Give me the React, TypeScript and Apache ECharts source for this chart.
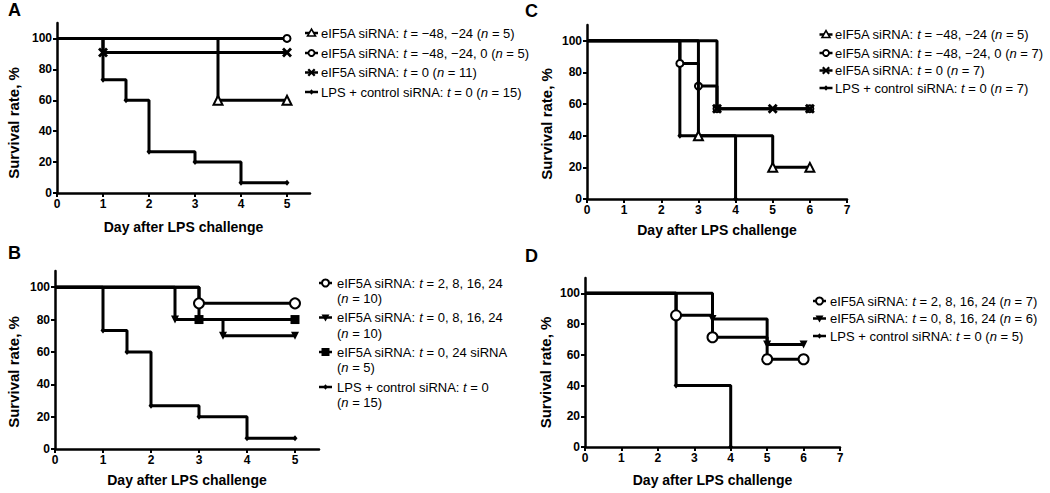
import React, { useEffect, useRef } from "react";
import * as echarts from "echarts";

const FONT = "'Liberation Sans', Arial, Helvetica, sans-serif";

// ---------- tick labels ----------
const xTicksAB = [0, 1, 2, 3, 4, 5];
const xTicksCD = [0, 1, 2, 3, 4, 5, 6, 7];
const yTicks = [0, 20, 40, 60, 80, 100];

// ---------- data: [day, survival %] ----------
// Panel A
const aTriangle = [[0, 100], [3.5, 60], [5, 60]];
const aCircle = [[0, 100], [5, 100]];
const aCross = [[0, 100], [1, 90.9], [5, 90.9]];
const lps15 = [[0, 100], [1, 73.3], [1.5, 60], [2, 26.7], [3, 20], [4, 6.7], [5, 6.7]];
// Panel B
const bCircle = [[0, 100], [3, 90], [5, 90]];
const bTriDown = [[0, 100], [2.5, 80], [3.5, 70], [5, 70]];
const bSquare = [[0, 100], [3, 80], [5, 80]];
// Panel C
const cTriangle = [[0, 100], [3, 40], [5, 20], [6, 20]];
const cCircle = [[0, 100], [2.5, 85.7], [3, 71.4], [3.5, 57.1], [6, 57.1]];
const cCross = [[0, 100], [3.5, 57.1], [5, 57.1], [6, 57.1]];
const cLps = [[0, 100], [2.5, 40], [4, 0]];
// Panel D
const dCircle = [[0, 100], [2.5, 85.7], [3.5, 71.4], [5, 57.1], [6, 57.1]];
const dTriDown = [[0, 100], [3.5, 83.3], [5, 66.7], [6, 66.7]];
const dLps = [[0, 100], [2.5, 40], [4, 0]];

// ---------- legend labels (*x* = italic) ----------
const legendA = [
  "eIF5A siRNA: *t* = −48, −24 (*n* = 5)",
  "eIF5A siRNA: *t* = −48, −24, 0 (*n* = 5)",
  "eIF5A siRNA: *t* = 0 (*n* = 11)",
  "LPS + control siRNA: *t* = 0 (*n* = 15)",
];
const legendB = [
  "eIF5A siRNA: *t* = 2, 8, 16, 24\n(*n* = 10)",
  "eIF5A siRNA: *t* = 0, 8, 16, 24\n(*n* = 10)",
  "eIF5A siRNA: *t* = 0, 24 siRNA\n(*n* = 5)",
  "LPS + control siRNA: *t* = 0\n(*n* = 15)",
];
const legendC = [
  "eIF5A siRNA: *t* = −48, −24 (*n* = 5)",
  "eIF5A siRNA: *t* = −48, −24, 0 (*n* = 7)",
  "eIF5A siRNA: *t* = 0 (*n* = 7)",
  "LPS + control siRNA: *t* = 0 (*n* = 7)",
];
const legendD = [
  "eIF5A siRNA: *t* = 2, 8, 16, 24 (*n* = 7)",
  "eIF5A siRNA: *t* = 0, 8, 16, 24 (*n* = 6)",
  "LPS + control siRNA: *t* = 0 (*n* = 5)",
];
const panelLetters = ["A", "B", "C", "D"];
const xTitle = "Day after LPS challenge";
const yTitle = "Survival rate, %";

const CROSS_PATH =
  "path://M0,2L2,0L5,3L8,0L10,2L7,5L10,8L8,10L5,7L2,10L0,8L3,5Z";

const SYM: Record<string, any> = {
  triUp: { symbol: "triangle", size: 9, fill: "#fff", rotate: 0 },
  circSm: { symbol: "circle", size: 7, fill: "#fff", rotate: 0 },
  circLg: { symbol: "circle", size: 10, fill: "#fff", rotate: 0 },
  cross: { symbol: CROSS_PATH, size: 10, fill: "#000", rotate: 0 },
  dot: { symbol: "diamond", size: [5, 6], fill: "#000", rotate: 0 },
  square: { symbol: "rect", size: 9, fill: "#000", rotate: 0 },
  triDown: { symbol: "triangle", size: 8, fill: "#000", rotate: 180 },
};

function mkSeries(name: string, data: number[][], k: number, kind: string, z: number) {
  const s = SYM[kind];
  const hollow = s.fill === "#fff";
  return {
    type: "line",
    name,
    xAxisIndex: k,
    yAxisIndex: k,
    step: "end",
    clip: false,
    silent: true,
    z,
    symbol: s.symbol,
    symbolSize: s.size,
    symbolRotate: s.rotate,
    showSymbol: true,
    data: data.map((p, i) => (i === 0 ? { value: p, symbol: "none" } : { value: p })),
    lineStyle: { color: "#000", width: 3 },
    itemStyle: { color: s.fill, borderColor: "#000", borderWidth: hollow ? 2 : 0 },
    emphasis: { disabled: true },
  };
}

function richText(s: string) {
  return s
    .split("\n")
    .map((line) =>
      line
        .split(/(\*[^*]+\*)/)
        .filter((seg) => seg.length > 0)
        .map((seg) => (seg.startsWith("*") ? `{i|${seg.slice(1, -1)}}` : `{r|${seg}}`))
        .join("")
    )
    .join("\n");
}

const LEG_FS = 13;
const LEG_LH = 15.5;
const RICH = {
  r: { fontSize: LEG_FS, fontFamily: FONT, fill: "#000", color: "#000", lineHeight: LEG_LH },
  i: { fontSize: LEG_FS, fontFamily: FONT, fontStyle: "italic", fill: "#000", color: "#000", lineHeight: LEG_LH },
};

function iconEls(kind: string, cx: number, cy: number) {
  const els: any[] = [
    { type: "line", shape: { x1: cx - 6.5, y1: cy, x2: cx + 6.5, y2: cy }, style: { stroke: "#000", lineWidth: 2.5 } },
  ];
  let m: any;
  switch (kind) {
    case "triUp":
      m = { type: "polygon", shape: { points: [[cx - 4, cy + 3], [cx + 4, cy + 3], [cx, cy - 4]] }, style: { fill: "#fff", stroke: "#000", lineWidth: 1.6 } };
      break;
    case "circSm":
      m = { type: "circle", shape: { cx, cy, r: 3 }, style: { fill: "#fff", stroke: "#000", lineWidth: 1.8 } };
      break;
    case "circLg":
      m = { type: "circle", shape: { cx, cy, r: 3.5 }, style: { fill: "#fff", stroke: "#000", lineWidth: 2 } };
      break;
    case "cross":
      m = {
        type: "polygon",
        shape: {
          points: [[0, 2], [2, 0], [5, 3], [8, 0], [10, 2], [7, 5], [10, 8], [8, 10], [5, 7], [2, 10], [0, 8], [3, 5]].map(
            (p) => [cx - 4 + p[0] * 0.8, cy - 4 + p[1] * 0.8]
          ),
        },
        style: { fill: "#000" },
      };
      break;
    case "dot":
      m = { type: "polygon", shape: { points: [[cx, cy - 2.8], [cx + 2.3, cy], [cx, cy + 2.8], [cx - 2.3, cy]] }, style: { fill: "#000" } };
      break;
    case "square":
      m = { type: "rect", shape: { x: cx - 4, y: cy - 4, width: 8, height: 8 }, style: { fill: "#000" } };
      break;
    case "triDown":
      m = { type: "polygon", shape: { points: [[cx - 4, cy - 3], [cx + 4, cy - 3], [cx, cy + 4]] }, style: { fill: "#000" } };
      break;
  }
  els.push(m);
  return els;
}

function legendEls(labels: string[], kinds: string[], iconCx: number, textX: number, rows: number[], multi: boolean) {
  const out: any[] = [];
  labels.forEach((lab, i) => {
    out.push(...iconEls(kinds[i], iconCx, rows[i]));
    out.push({
      type: "text",
      x: textX,
      y: multi ? rows[i] - LEG_LH / 2 : rows[i],
      silent: true,
      style: {
        text: richText(lab),
        rich: RICH,
        fontSize: LEG_FS,
        fontFamily: FONT,
        fill: "#000",
        align: "left",
        verticalAlign: multi ? "top" : "middle",
        lineHeight: LEG_LH,
      },
    });
  });
  return out;
}

function mkAxes(k: number, maxX: number, xt: number[], xGap: number, yGap: number, yShift: number) {
  const labelStyle = { color: "#000", fontSize: 12, fontWeight: "bold", fontFamily: FONT };
  const xAxis = {
    type: "value",
    gridIndex: k,
    min: 0,
    max: maxX,
    interval: 1,
    axisLine: { show: true, onZero: false, lineStyle: { color: "#000", width: 2.5 } },
    axisTick: { show: true, inside: false, length: 4, customValues: xt, lineStyle: { color: "#000", width: 2 } },
    axisLabel: { ...labelStyle, margin: 5, customValues: xt },
    splitLine: { show: false },
    name: xTitle,
    nameLocation: "middle",
    nameGap: xGap,
    nameTextStyle: { color: "#000", fontSize: 14, fontWeight: "bold", fontFamily: FONT },
  };
  const yAxis = {
    type: "value",
    gridIndex: k,
    min: 0,
    max: 110,
    interval: 10,
    axisLine: { show: true, onZero: false, lineStyle: { color: "#000", width: 2.5 } },
    axisTick: { show: true, inside: false, length: 4, customValues: yTicks, lineStyle: { color: "#000", width: 2 } },
    axisLabel: { ...labelStyle, margin: 5, customValues: yTicks },
    splitLine: { show: false },
    name: yTitle,
    nameLocation: "middle",
    nameGap: yGap,
    nameTextStyle: { color: "#000", fontSize: 15, fontWeight: "bold", fontFamily: FONT, padding: [0, yShift * 2, 0, 0] },
  };
  return { xAxis, yAxis };
}

export default function App() {
  const ref = useRef<HTMLDivElement>(null);
  useEffect(() => {
    document.body.style.margin = "0";
    if (!ref.current) return;
    const chart = echarts.init(ref.current, null, { renderer: "svg" });

    const axA = mkAxes(0, 5.5, xTicksAB, 27, 36, 15);
    const axB = mkAxes(1, 5.5, xTicksAB, 24, 34, 12);
    const axC = mkAxes(2, 7, xTicksCD, 24, 33, 12);
    const axD = mkAxes(3, 7, xTicksCD, 26, 32, 10);

    const series = [
      // A
      mkSeries(legendA[3], lps15, 0, "dot", 2),
      mkSeries(legendA[2], aCross, 0, "cross", 3),
      mkSeries(legendA[0], aTriangle, 0, "triUp", 4),
      mkSeries(legendA[1], aCircle, 0, "circSm", 5),
      // B
      mkSeries(legendB[3], lps15, 1, "dot", 2),
      mkSeries(legendB[1], bTriDown, 1, "triDown", 3),
      mkSeries(legendB[2], bSquare, 1, "square", 4),
      mkSeries(legendB[0], bCircle, 1, "circLg", 5),
      // C
      mkSeries(legendC[3], cLps, 2, "dot", 2),
      mkSeries(legendC[1], cCircle, 2, "circSm", 3),
      mkSeries(legendC[0], cTriangle, 2, "triUp", 4),
      mkSeries(legendC[2], cCross, 2, "cross", 5),
      // D
      mkSeries(legendD[2], dLps, 3, "dot", 2),
      mkSeries(legendD[1], dTriDown, 3, "triDown", 3),
      mkSeries(legendD[0], dCircle, 3, "circLg", 4),
    ];

    const letterStyle = { fontSize: 18, fontWeight: "bold", fontFamily: FONT, fill: "#000", verticalAlign: "middle", align: "left" };
    const letterPos = [[8, 10], [8, 253], [525, 11], [525, 256]];

    const graphic = [
      ...panelLetters.map((t, i) => ({ type: "text", x: letterPos[i][0], y: letterPos[i][1], silent: true, style: { text: t, ...letterStyle } })),
      ...legendEls(legendA, ["triUp", "circSm", "cross", "dot"], 311.5, 321, [33, 53, 72.5, 92], false),
      ...legendEls(legendB, ["circLg", "triDown", "square", "dot"], 325.5, 337, [283, 317.5, 352, 387], true),
      ...legendEls(legendC, ["triUp", "circSm", "cross", "dot"], 826, 835, [34.5, 53, 70.5, 88], false),
      ...legendEls(legendD, ["circLg", "triDown", "dot"], 819.5, 830, [301, 318.5, 336], false),
    ];

    chart.setOption({
      animation: false,
      backgroundColor: "#fff",
      grid: [
        { left: 57, top: 23, width: 253, height: 170, containLabel: false },
        { left: 55, top: 271, width: 264, height: 178, containLabel: false },
        { left: 587, top: 25, width: 260, height: 174, containLabel: false },
        { left: 585, top: 278, width: 255, height: 169, containLabel: false },
      ],
      xAxis: [axA.xAxis, axB.xAxis, axC.xAxis, axD.xAxis],
      yAxis: [axA.yAxis, axB.yAxis, axC.yAxis, axD.yAxis],
      series,
      graphic,
    });
    return () => chart.dispose();
  }, []);
  return <div ref={ref} style={{ width: 1050, height: 493 }} />;
}
